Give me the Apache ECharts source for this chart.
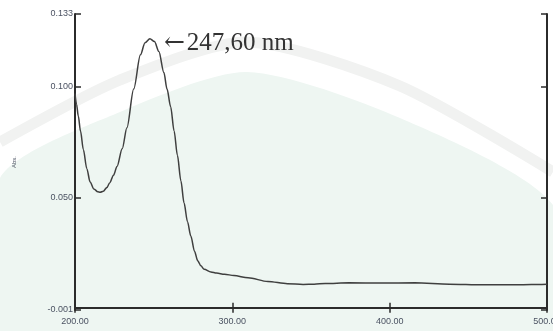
<!DOCTYPE html>
<html>
<head>
<meta charset="utf-8">
<script src="https://cdn.jsdelivr.net/npm/echarts@6/dist/echarts.min.js"></script>
<style>
  html, body { margin: 0; padding: 0; background: #ffffff; }
  #chart { width: 553px; height: 331px; }
</style>
</head>
<body>
<div id="chart"></div>
<script>
// wavelength (nm) and absorbance
const wavelengths = [
  200, 201, 202.1, 203.5, 205.3, 207.5, 209.6, 212, 214.5, 216, 218, 220.3,
  222, 224.5, 226.7, 230, 233, 237.3, 241.6, 244.5, 247.6, 250.5, 253.3,
  256.5, 258.5, 260.8, 263, 265.1, 267.3, 269.3, 271.5, 273.6, 276, 278,
  280, 282.1, 286.4, 290, 295, 301, 310, 322.6, 335, 345, 352, 359, 374,
  395, 416, 438, 459, 480, 490, 500,
];
const absorbance = [
  0.097, 0.092, 0.0868, 0.08, 0.0717, 0.063, 0.057, 0.0538, 0.0525, 0.0523,
  0.0528, 0.0545, 0.0565, 0.06, 0.064, 0.072, 0.0815, 0.099, 0.1145, 0.12,
  0.1218, 0.1205, 0.116, 0.1065, 0.099, 0.091, 0.08, 0.069, 0.0575, 0.0475,
  0.039, 0.0325, 0.0255, 0.0213, 0.019, 0.0174, 0.0162, 0.0157, 0.0152,
  0.0146, 0.0136, 0.0119, 0.0109, 0.0106, 0.0107, 0.011, 0.0113, 0.0112,
  0.0113, 0.0107, 0.0104, 0.0104, 0.0105, 0.0107,
];
const yTickValues = [-0.001, 0.05, 0.1, 0.133];
const peakWavelength = 247.6;
const peakAbsorbance = 0.1218;
const peakText = '247,60 nm';

const chart = echarts.init(document.getElementById('chart'), null, {
  renderer: 'canvas',
});

const frameColor = '#2b2b2b';
const tickLabelStyle = {
  color: '#4b5262',
  fontFamily: 'Liberation Sans, Arial, sans-serif',
  fontSize: 9,
};

function frameAxis(extra) {
  return {
    axisLine: { show: true, lineStyle: { color: frameColor, width: 2 } },
    splitLine: { show: false },
    ...extra,
  };
}

chart.setOption({
  animation: false,
  backgroundColor: '#ffffff',
  // faint watermark arch behind the plot
  graphic: [
    {
      type: 'polygon',
      silent: true,
      z: -10,
      shape: {
        points: [[0, 178], [120, 112], [247, 72], [400, 118], [553, 205], [553, 331], [0, 331]],
        smooth: 0.25,
      },
      style: { fill: '#eef6f2' },
    },
    {
      type: 'polyline',
      silent: true,
      z: -10,
      shape: {
        points: [[0, 142], [120, 80], [247, 42], [400, 86], [553, 172]],
        smooth: 0.25,
      },
      style: { stroke: '#f1f2f1', lineWidth: 11, fill: null },
    },
  ],
  grid: {
    left: 75,
    right: 6,
    top: 14,
    bottom: 21,
    outerBoundsMode: 'none',
  },
  xAxis: [
    frameAxis({
      type: 'value',
      min: 200,
      max: 500,
      interval: 100,
      name: 'nm',
      nameLocation: 'middle',
      nameGap: 13,
      nameTextStyle: { color: '#4b5262', fontSize: 6 },
      axisTick: { show: true, inside: true, length: 5, lineStyle: { color: frameColor, width: 1.5 } },
      axisLabel: {
        ...tickLabelStyle,
        margin: 7,
        showMinLabel: true,
        showMaxLabel: true,
        formatter: (value) => value.toFixed(2),
      },
    }),
    frameAxis({
      type: 'value',
      position: 'top',
      min: 200,
      max: 500,
      interval: 100,
      axisTick: { show: true, inside: true, length: 5, lineStyle: { color: frameColor, width: 1.5 } },
      axisLabel: { show: false },
    }),
  ],
  yAxis: [
    frameAxis({
      type: 'value',
      min: -0.001,
      max: 0.133,
      name: 'Abs.',
      nameLocation: 'middle',
      nameGap: 58,
      nameTextStyle: { color: '#4b5262', fontSize: 6 },
      axisTick: {
        show: true,
        inside: true,
        length: 6,
        customValues: yTickValues,
        lineStyle: { color: frameColor, width: 1.5 },
      },
      axisLabel: {
        ...tickLabelStyle,
        margin: 2,
        customValues: yTickValues,
        formatter: (value) => value.toFixed(3),
      },
    }),
    frameAxis({
      type: 'value',
      position: 'right',
      min: -0.001,
      max: 0.133,
      axisTick: {
        show: true,
        inside: true,
        length: 6,
        customValues: yTickValues,
        lineStyle: { color: frameColor, width: 1.5 },
      },
      axisLabel: { show: false },
    }),
  ],
  series: [
    {
      type: 'line',
      xAxisIndex: 0,
      yAxisIndex: 0,
      data: wavelengths.map((wl, i) => [wl, absorbance[i]]),
      smooth: 0.3,
      smoothMonotone: 'x',
      showSymbol: false,
      lineStyle: { color: '#3f3f3f', width: 1.5 },
      markPoint: {
        symbol: 'circle',
        symbolSize: 0,
        data: [{ coord: [peakWavelength, peakAbsorbance] }],
        label: {
          show: true,
          position: 'right',
          distance: 14,
          offset: [0, 5],
          formatter: '{arrow|\u2190}{txt|' + peakText + '}',
          rich: {
            arrow: {
              color: '#333333',
              fontFamily: 'DejaVu Serif, serif',
              fontSize: 25,
              padding: [0, 2, 0, 0],
            },
            txt: {
              color: '#333333',
              fontFamily: 'Liberation Serif, Times New Roman, serif',
              fontSize: 25,
            },
          },
        },
      },
    },
  ],
});
</script>
</body>
</html>
